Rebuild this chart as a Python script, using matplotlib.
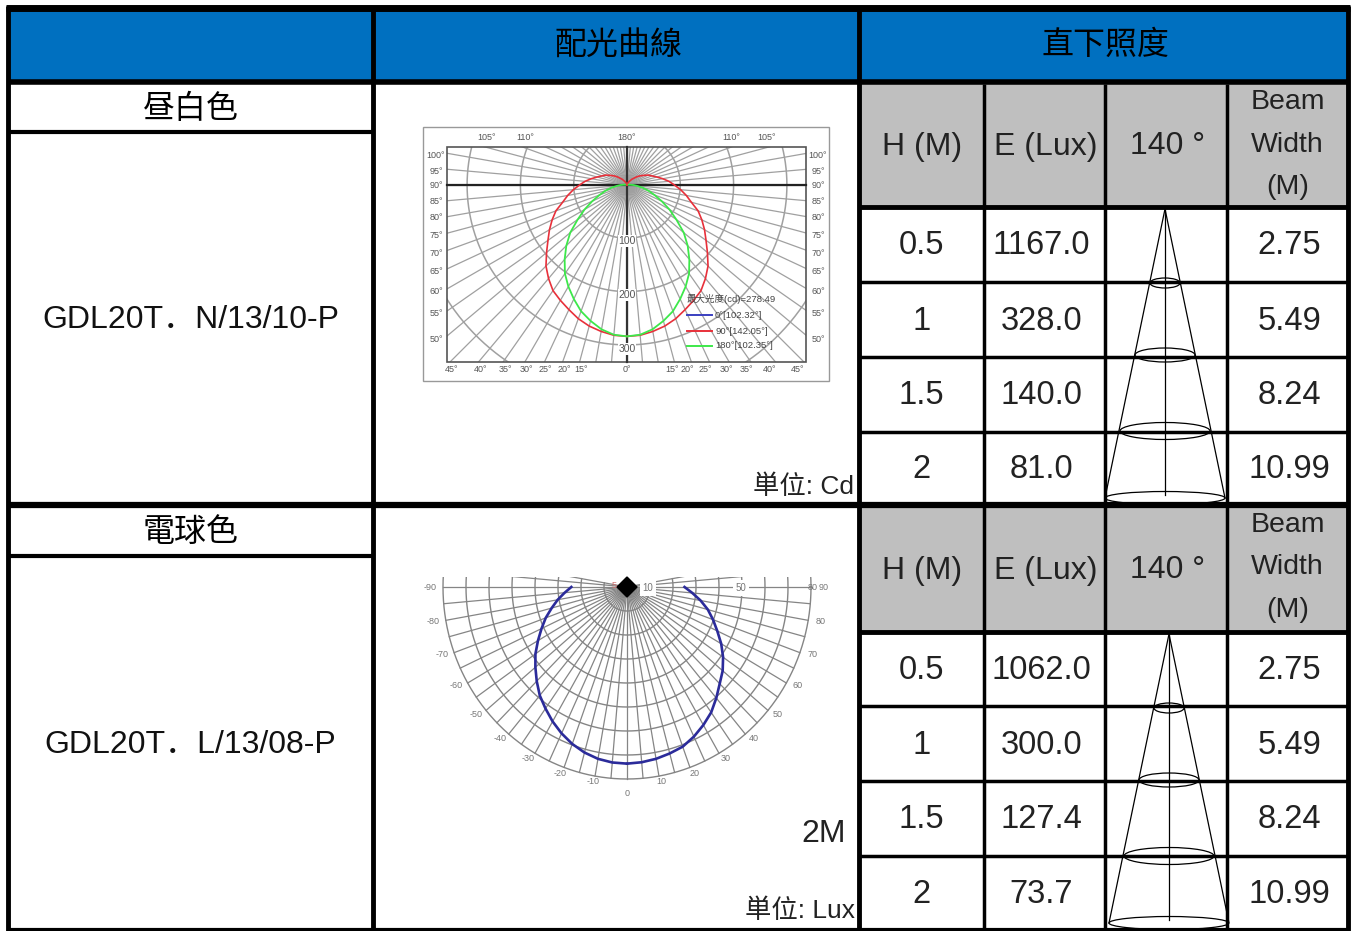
import numpy as np
import matplotlib
matplotlib.use("Agg")
import matplotlib.pyplot as plt
from matplotlib.patches import Rectangle, Ellipse

plt.rcParams["font.family"] = ["Liberation Sans", "Noto Sans CJK TC", "DejaVu Sans"]

headers = ["配光曲線", "直下照度"]
colors_names = ["昼白色", "電球色"]
models = ["GDL20T．N/13/10-P", "GDL20T．L/13/08-P"]
sub_headers = ["H (M)", "E (Lux)", "140 °", "Beam\nWidth\n(M)"]
heights = [0.5, 1, 1.5, 2]
height_labels = ["0.5", "1", "1.5", "2"]
lux_n = ["1167.0", "328.0", "140.0", "81.0"]
lux_l = ["1062.0", "300.0", "127.4", "73.7"]
beam_width = [2.75, 5.49, 8.24, 10.99]
beam_labels = ["2.75", "5.49", "8.24", "10.99"]

# candela curve, angle from nadir (left and right halves share values)
red_angle = [0, 5, 10, 15, 20, 25, 30, 35, 40, 45, 50, 55, 60, 65, 70, 75, 80, 85, 90, 95, 100,
             105, 110, 115, 120, 125, 130, 140, 150, 165, 180]
red_cd = [284, 283, 279, 274, 267, 258, 250, 242, 229, 215, 197, 181, 168, 155, 142, 125, 113, 101, 89, 79, 68,
          58, 50, 44, 36, 30, 24, 14, 7, 2, 0]
green_angle = [0, 5, 10, 15, 20, 25, 30, 35, 40, 45, 50, 55, 60, 65, 70, 75, 80, 85, 90, 95, 100]
green_cd = [284, 282, 275, 264, 252, 236, 220, 203, 182, 161, 139, 113, 92, 72, 55, 42, 30, 19, 12, 6, 3]
ring_cd = [100, 200, 300, 400, 500, 600, 700]
left_deg = ["100°", "95°", "90°", "85°", "80°", "75°", "70°", "65°", "60°", "55°", "50°"]
left_deg_y = [155, 171, 186, 202, 218, 235, 253, 271, 291, 314, 339]
bottom_deg = ["45°", "40°", "35°", "30°", "25°", "20°", "15°", "0°", "15°", "20°", "25°", "30°", "35°", "40°", "45°"]
bottom_deg_x = [452, 481, 505, 526, 545, 564, 581, 627, 672, 687, 705, 726, 746, 770, 798]
top_deg = ["105°", "110°", "180°", "110°", "105°"]
top_deg_x = [487, 525, 627, 731, 767]

# lux curve, angle from nadir
lux_angle = [0, 5, 10, 15, 20, 25, 30, 35, 40, 45, 50, 55, 60, 65, 70, 75, 80, 85, 90]
lux_left = [73.6, 73.4, 72.7, 71.4, 69.6, 67.3, 64.7, 61.8, 59, 55.5, 52, 48.6, 44.7, 41, 37.6, 33.9, 30.6, 27.2, 24.2]
lux_right = [73.6, 73.3, 72.7, 71.8, 70.8, 68.8, 66.4, 63.8, 60.4, 57, 54.3, 51, 47.3, 43.3, 39.8, 36.4, 32.5, 28.5, 25]
lux_rings = [10, 20, 30, 40, 50, 60, 70, 80]
lux_angle_labels = [-90, -80, -70, -60, -50, -40, -30, -20, -10, 10, 20, 30, 40, 50, 60, 70, 80, 90]

BLUE = "#0070C0"
GREY = "#BFBFBF"
TXT = "#222222"
col_x = [8, 373, 859, 984, 1105, 1227, 1348]

fig = plt.figure(figsize=(13.52, 9.31), dpi=100)
ax = fig.add_axes([0, 0, 1, 1])
ax.set_xlim(0, 1352)
ax.set_ylim(931, 0)
ax.axis("off")


def hline(y, x0, x1, lw=3):
    ax.plot([x0, x1], [y, y], color="black", lw=lw, solid_capstyle="butt", zorder=5)


def vline(x, y0, y1, lw=3):
    ax.plot([x, x], [y0, y1], color="black", lw=lw, solid_capstyle="butt", zorder=5)


def draw_candela():
    cx, cy = 627, 185
    k = 0.533
    ax.add_patch(Rectangle((423, 127), 406, 254, fc="white", ec="#999999", lw=1, zorder=1))
    clip = Rectangle((447, 147), 359, 215, transform=ax.transData)
    for r in ring_cd:
        t = np.radians(np.arange(0, 361, 2))
        ln, = ax.plot(cx + r * k * np.cos(t), cy + r * k * np.sin(t), color="#a0a0a0", lw=1.1, zorder=2)
        ln.set_clip_path(clip)
    for a in range(0, 360, 5):
        t = np.radians(a)
        ln, = ax.plot([cx, cx + 500 * np.cos(t)], [cy, cy + 500 * np.sin(t)], color="#a0a0a0", lw=0.9, zorder=2)
        ln.set_clip_path(clip)
    ax.add_patch(Rectangle((447, 147), 359, 215, fc="none", ec="#555555", lw=1.2, zorder=3))
    ax.plot([447, 806], [cy, cy], color="#222222", lw=1.6, zorder=3)
    ax.plot([cx, cx], [147, 362], color="#333333", lw=1.6, zorder=3)
    for sign in [-1, 1]:
        t = np.radians(red_angle)
        ax.plot(cx + sign * k * np.array(red_cd) * np.sin(t), cy + k * np.array(red_cd) * np.cos(t),
                color="#e8303a", lw=1.2, zorder=4)
        t = np.radians(green_angle)
        ax.plot(cx + sign * k * np.array(green_cd) * np.sin(t), cy + k * np.array(green_cd) * np.cos(t),
                color="#3de84a", lw=1.3, zorder=4)
    tc = "#555555"
    for lab, y in zip(left_deg, left_deg_y):
        ax.text(436, y, lab, fontsize=6.5, color=tc, ha="center", va="center", zorder=6)
        ax.text(818, y, lab, fontsize=6.5, color=tc, ha="center", va="center", zorder=6)
    for lab, x in zip(bottom_deg, bottom_deg_x):
        ax.text(x, 370, lab, fontsize=6.5, color=tc, ha="center", va="center", zorder=6)
    for lab, x in zip(top_deg, top_deg_x):
        ax.text(x, 137, lab, fontsize=6.5, color=tc, ha="center", va="center", zorder=6)
    for lab, y in zip(["100", "200", "300"], [241, 295, 349]):
        ax.text(cx, y, lab, fontsize=7.5, color=tc, ha="center", va="center", zorder=6,
                bbox=dict(fc="white", ec="none", pad=0.5))
    ax.text(687, 299, "最大光度(cd)=278.49", fontsize=6.8, color="#444444", va="center", zorder=6)
    legend = [("0°[102.32°]", "#3a3fc0"), ("90°[142.05°]", "#e8303a"), ("180°[102.35°]", "#3de84a")]
    for (lab, c), y in zip(legend, [315, 331, 346]):
        ax.plot([687, 712], [y, y], color=c, lw=1.4, zorder=6)
        ax.text(715, y, lab, fontsize=6.8, color="#444444", va="center", zorder=6)


def draw_lux():
    cx, cy = 627, 587
    kx, ky = 2.3, 2.4
    clip = Rectangle((420, 577), 420, 240, transform=ax.transData)
    t = np.radians(np.arange(-100, 101, 2))
    for r in lux_rings:
        ln, = ax.plot(cx + r * kx * np.sin(t), cy + r * ky * np.cos(t), color="#858585", lw=1, zorder=2)
        ln.set_clip_path(clip)
    for a in range(-100, 101, 5):
        s = np.radians(a)
        ln, = ax.plot([cx, cx + 80 * kx * np.sin(s)], [cy, cy + 80 * ky * np.cos(s)],
                      color="#858585", lw=0.9, zorder=2)
        ln.set_clip_path(clip)
    # black blob of converging spokes at the centre
    ax.fill([cx - 10, cx, cx + 10, cx], [cy, cy - 10, cy, cy + 10], color="black", zorder=3)
    s = np.radians(lux_angle)
    ax.plot(cx - kx * np.array(lux_left) * np.sin(s), cy + ky * np.array(lux_left) * np.cos(s),
            color="#2b2b9a", lw=1.9, zorder=4)
    ax.plot(cx + kx * np.array(lux_right) * np.sin(s), cy + ky * np.array(lux_right) * np.cos(s),
            color="#2b2b9a", lw=1.9, zorder=4)
    for a in lux_angle_labels:
        s = np.radians(a)
        ax.text(cx + 197 * np.sin(s), cy + 198 * np.cos(s), str(a), fontsize=6.5, color="#777777",
                ha="center", va="center", zorder=6)
    ax.text(cx, 793, "0", fontsize=6.5, color="#777777", ha="center", va="center", zorder=6)
    ax.text(cx + 21, cy + 1, "10", fontsize=7, color="#777777", ha="center", va="center", zorder=6,
            bbox=dict(fc="white", ec="none", pad=2))
    ax.text(cx + 114, cy + 1, "50", fontsize=7, color="#777777", ha="center", va="center", zorder=6,
            bbox=dict(fc="white", ec="none", pad=2))
    ax.text(cx + 186, cy, "80", fontsize=6.5, color="#777777", ha="center", va="center", zorder=6)
    ax.text(cx - 13, cy - 1, "5", fontsize=6.5, color="#d07070", ha="center", va="center", zorder=6)


def draw_cone(apex_x, apex_y, bottom_clip):
    k_w = 5.46
    drops = [74, 146, 222, 289]
    last_y = apex_y + drops[-1]
    hw_last = beam_width[-1] * k_w
    ax.plot([apex_x - hw_last, apex_x, apex_x + hw_last], [last_y, apex_y, last_y], color="black", lw=0.9, zorder=4)
    ax.plot([apex_x, apex_x], [apex_y, last_y - 3], color="black", lw=0.9, zorder=4)
    for d, w, eh in zip(drops, beam_width, [10, 14, 17, 13]):
        e = Ellipse((apex_x, apex_y + d), w * k_w * 2, eh, fc="none", ec="black", lw=0.9, zorder=6)
        ax.add_patch(e)
        e.set_clip_path(Rectangle((col_x[4], apex_y), 122, bottom_clip - apex_y, transform=ax.transData))


def draw_block(top, bottom, sub_y, grey_bottom, row_lines, name, model, lux):
    ax.add_patch(Rectangle((col_x[2], top), col_x[6] - col_x[2], grey_bottom - top, fc=GREY, ec="none", zorder=1))
    hline(sub_y, col_x[0], col_x[1])
    hline(grey_bottom, col_x[2], col_x[6], lw=3.5)
    for y in row_lines:
        hline(y, col_x[2], col_x[6], lw=2.5)
    for x in col_x[3:6]:
        vline(x, top, bottom, lw=2.5)
    ax.text((col_x[0] + col_x[1]) / 2, (top + sub_y) / 2 + 1.5, name, fontsize=23, ha="center", va="center", zorder=6)
    ax.text((col_x[0] + col_x[1]) / 2, (sub_y + bottom) / 2 + 2, model, fontsize=23, ha="center", va="center",
            color="#111111", zorder=6, fontfamily=["Liberation Sans", "Noto Sans CJK JP"])
    centres = [(col_x[i] + col_x[i + 1]) / 2 for i in range(2, 6)]
    header_x = [centres[0] + 1, centres[1] + 1, centres[2] + 2, centres[3]]
    for x, lab in zip(header_x, sub_headers):
        if "\n" in lab:
            for j, part in enumerate(lab.split("\n")):
                ax.text(x, top + 18 + j * 42.5, part, fontsize=20.5, ha="center", va="center", color=TXT, zorder=6)
        else:
            ax.text(x, (top + grey_bottom) / 2 + 1, lab, fontsize=23, ha="center", va="center", color=TXT, zorder=6)
    ys = [grey_bottom] + row_lines + [bottom]
    for i in range(4):
        y = (ys[i] + ys[i + 1]) / 2 + 1.5
        ax.text(centres[0], y, height_labels[i], fontsize=23.5, ha="center", va="center", color=TXT, zorder=6)
        ax.text(centres[1] - 3, y, lux[i], fontsize=23.5, ha="center", va="center", color=TXT, zorder=6)
        ax.text(centres[3] + 2, y, beam_labels[i], fontsize=23.5, ha="center", va="center", color=TXT, zorder=6)


# header band
ax.add_patch(Rectangle((col_x[0], 8), col_x[6] - col_x[0], 74, fc=BLUE, ec="none", zorder=1))
ax.text((col_x[1] + col_x[2]) / 2 + 2, 45, headers[0], fontsize=23, ha="center", va="center", zorder=6,
        fontfamily=["Noto Sans CJK TC"])
ax.text((col_x[2] + col_x[6]) / 2 + 2, 45, headers[1], fontsize=23, ha="center", va="center", zorder=6,
        fontfamily=["Noto Sans CJK TC"])

draw_block(84, 505, 132, 207, [282, 357, 432], colors_names[0], models[0], lux_n)
draw_block(507, 930, 556, 632, [706, 781, 856], colors_names[1], models[1], lux_l)

hline(8, 6, 1350, lw=5)
hline(82, col_x[0], col_x[6], lw=4)
hline(505, col_x[0], col_x[6], lw=4.5)
hline(930, col_x[0], col_x[6], lw=3)
vline(col_x[0], 6, 931, lw=3.5)
vline(col_x[1], 8, 931, lw=3.5)
vline(col_x[2], 8, 931, lw=3.5)
vline(col_x[6], 6, 931, lw=3.5)

draw_candela()
draw_lux()
draw_cone(1165, 209, 503)
draw_cone(1169, 634, 928)

ax.text(854, 487, "単位: Cd", fontsize=19, ha="right", va="center", color=TXT, zorder=6)
ax.text(846, 834, "2M", fontsize=23, ha="right", va="center", color=TXT, zorder=6)
ax.text(855, 911, "単位: Lux", fontsize=19, ha="right", va="center", color=TXT, zorder=6)

fig.savefig("out.png", dpi=100)
